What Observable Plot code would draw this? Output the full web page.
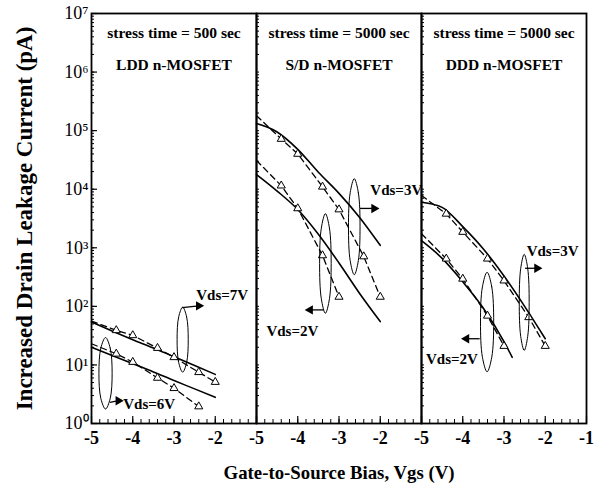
<!DOCTYPE html>
<html><head><meta charset="utf-8">
<script src="https://cdn.jsdelivr.net/npm/d3@7"></script>
<script src="https://cdn.jsdelivr.net/npm/@observablehq/plot@0.6"></script>
<style>
html,body{margin:0;padding:0;background:#fff;}
#chart{width:596px;height:494px;}
</style></head><body><div id="chart"></div>
<script>
// ---------- panels & texts ----------
const panels = ["LDD", "S/D", "DDD"];
const stressTitles = ["stress time = 500 sec", "stress time = 5000 sec", "stress time = 5000 sec"];
const deviceNames = ["LDD n-MOSFET", "S/D n-MOSFET", "DDD n-MOSFET"];
const yTitle = "Increased Drain Leakage Current (pA)";
const xTitle = "Gate-to-Source Bias, Vgs (V)";

// ---------- axis ticks ----------
const yTickValues = [1, 10, 100, 1e3, 1e4, 1e5, 1e6, 1e7];
const yTickLabels = ["10⁰", "10¹", "10²", "10³", "10⁴", "10⁵", "10⁶", "10⁷"];
const xTickPanel = ["LDD","LDD","LDD","LDD","S/D","S/D","S/D","S/D","DDD","DDD","DDD","DDD","DDD"];
const xTickValue = [-5,-4,-3,-2,-5,-4,-3,-2,-5,-4,-3,-2,-1];

// ---------- measured data (dashed line + triangles) ----------
const vgsMeas = [-5, -4.4, -4.0, -3.4, -3.0, -2.4, -2.0];
const lddMeas7V = [56, 39, 32, 19.4, 13.5, 7.5, 5.1];
const lddMeas6V = [23, 15.5, 11.2, 6.0, 4.0, 1.95];
const sdMeas3V = [1.8e5, 7.2e4, 4.0e4, 1.1e4, 4.5e3, 710, 145];
const sdMeas2V = [3.1e4, 1.15e4, 4.7e3, 740, 145];
const dddMeas3V = [7800, 3800, 1860, 650, 275, 65, 21];
const dddMeas2V = [1740, 650, 295, 69, 21];

// ---------- model curves (solid lines) ----------
const vgsFit = [-5, -4.5, -4, -3.5, -3, -2.5, -2];
const vgsFitDDD2V = [-5, -4.5, -4, -3.5, -3, -2.8];
const lddFit7V = [54, 38, 27, 19.5, 13.8, 9.8, 6.9];
const lddFit6V = [20, 14.5, 10.5, 7.6, 5.4, 3.9, 2.8];
const sdFit3V = [1.32e5, 9.5e4, 4.8e4, 1.95e4, 8.5e3, 3.3e3, 1.1e3];
const sdFit2V = [1.78e4, 9.3e3, 4.5e3, 1.7e3, 550, 166, 55];
const dddFit3V = [6000, 4900, 2300, 955, 330, 100, 28];
const dddFit2V = [1320, 660, 263, 93, 25, 13.5];

// ---------- annotations ----------
const ellPanel = ["LDD", "LDD", "S/D", "S/D", "DDD", "DDD"];
const ellX = [-2.79, -4.66, -2.63, -3.33, -2.51, -3.41];
const ellY = [27, 7.2, 2290, 540, 117, 54];
const ellHalfW = [0.135, 0.16, 0.14, 0.14, 0.12, 0.16];
const ellHalfDecades = [0.555, 0.61, 0.82, 0.85, 0.82, 0.85];

const arrowX1 = [-2.80, -4.55, -2.49, -3.37, -2.49, -3.59];
const arrowX2 = [-2.40, -4.35, -2.15, -3.70, -2.20, -3.91];
const arrowY1 = [95, 2.3, 4700, 87, 447, 28];
const arrowY2 = [102, 2.45, 4700, 87, 447, 28];

const labelText = ["Vds=7V", "Vds=6V", "Vds=3V", "Vds=2V", "Vds=3V", "Vds=2V"];
const labelX = [-2.46, -4.23, -2.24, -4.76, -2.45, -4.89];
const labelY = [155, 2.1, 9500, 38, 890, 12.6];

// ---------- build tables ----------
const zipRows = (panel, series, xs, ys) => ys.map((y, i) => ({panel, series, x: xs[i], y}));
const measured = [
  ...zipRows("LDD", "7V", vgsMeas, lddMeas7V),
  ...zipRows("LDD", "6V", vgsMeas, lddMeas6V),
  ...zipRows("S/D", "3V", vgsMeas, sdMeas3V),
  ...zipRows("S/D", "2V", vgsMeas, sdMeas2V),
  ...zipRows("DDD", "3V", vgsMeas, dddMeas3V),
  ...zipRows("DDD", "2V", vgsMeas, dddMeas2V)
];
const fits = [
  ...zipRows("LDD", "7V", vgsFit, lddFit7V),
  ...zipRows("LDD", "6V", vgsFit, lddFit6V),
  ...zipRows("S/D", "3V", vgsFit, sdFit3V),
  ...zipRows("S/D", "2V", vgsFit, sdFit2V),
  ...zipRows("DDD", "3V", vgsFit, dddFit3V),
  ...zipRows("DDD", "2V", vgsFitDDD2V, dddFit2V)
];
// ellipse outlines: 8 points around each centre (log-space vertical radius)
const c45 = Math.SQRT1_2;
const ellUnit = [[0,1],[c45,c45],[1,0],[c45,-c45],[0,-1],[-c45,-c45],[-1,0],[-c45,c45]];
const ellipsePts = ellPanel.flatMap((p, i) => ellUnit.map(([u, v]) => ({
  panel: p, id: i, x: ellX[i] + u * ellHalfW[i], y: ellY[i] * Math.pow(10, v * ellHalfDecades[i])
})));
const arrows = ellPanel.map((p, i) => ({panel: p, x1: arrowX1[i], y1: arrowY1[i], x2: arrowX2[i], y2: arrowY2[i]}));
const labels = ellPanel.map((p, i) => ({panel: p, x: labelX[i], y: labelY[i], t: labelText[i]}));
const titles = panels.map((p, i) => ({panel: p, stress: stressTitles[i], name: deviceNames[i]}));
const xTicks = xTickValue.map((v, i) => ({panel: xTickPanel[i], v}));

const serif = "'Liberation Serif', 'Times New Roman', serif";

const chart = Plot.plot({
  width: 596,
  height: 494,
  marginLeft: 90,
  marginRight: 10,
  marginTop: 13,
  marginBottom: 71,
  style: {fontFamily: serif, color: "black", background: "white"},
  fx: {domain: panels, padding: 0, axis: null},
  x: {domain: [-5, -1], label: null},
  y: {type: "log", domain: [1, 1e7], label: null},
  marks: [
    // axes: minor and major inward ticks
    Plot.axisX({ticks: 20, tickSize: -4, tickFormat: () => "", label: null, strokeWidth: 1}),
    Plot.axisX({ticks: [-5, -4, -3, -2, -1], tickSize: -7, tickFormat: () => "", label: null, strokeWidth: 1.2}),
    Plot.text(xTicks, {fx: "panel", x: "v", text: (d) => String(d.v), frameAnchor: "bottom", lineAnchor: "top",
      dy: 8, fontSize: 18, fontWeight: "bold"}),
    Plot.axisY({ticks: 100, tickSize: -3, tickFormat: () => "", label: null, facetAnchor: null, strokeWidth: 1}),
    Plot.axisY({ticks: yTickValues, tickSize: -6, tickFormat: () => "", label: null, strokeWidth: 1.2}),
    Plot.axisY({ticks: yTickValues, tickSize: 0, tickPadding: 3,
      tickFormat: (d) => yTickLabels[yTickValues.indexOf(d)], fontSize: 18, label: null}),
    Plot.frame({strokeWidth: 1.8}),
    // model curves
    Plot.line(fits, {fx: "panel", x: "x", y: "y", z: "series", curve: "monotone-x", strokeWidth: 1.6}),
    // measured
    Plot.line(measured, {fx: "panel", x: "x", y: "y", z: "series", strokeWidth: 1.3, strokeDasharray: "6,4"}),
    Plot.dot(measured.filter((d) => d.x > -5), {fx: "panel", x: "x", y: "y", symbol: "triangle", r: 3,
      fill: "white", stroke: "black", strokeWidth: 1}),
    // ellipses
    Plot.line(ellipsePts, {fx: "panel", x: "x", y: "y", z: "id", curve: "catmull-rom-closed", strokeWidth: 1}),
    // arrows
    Plot.link(arrows, {fx: "panel", x1: "x1", y1: "y1", x2: "x2", y2: "y2", strokeWidth: 1.3}),
    Plot.dot(arrows, {fx: "panel", x: "x2", y: "y2", symbol: "triangle2", r: 4.5, fill: "black",
      rotate: (d) => (d.x2 > d.x1 ? 90 : -90)}),
    // labels
    Plot.text(labels, {fx: "panel", x: "x", y: "y", text: "t", textAnchor: "start", fontSize: 15, fontWeight: "bold"}),
    Plot.text(titles, {fx: "panel", text: "stress", frameAnchor: "top", lineAnchor: "middle", dy: 20, fontSize: 15.5, fontWeight: "bold"}),
    Plot.text(titles, {fx: "panel", text: "name", frameAnchor: "top", lineAnchor: "middle", dy: 52, fontSize: 15.5, fontWeight: "bold"}),
    // axis titles
    Plot.text([{panel: "LDD", t: yTitle}], {fx: "panel", text: "t", frameAnchor: "left", textAnchor: "middle",
      lineAnchor: "middle", rotate: -90, dx: -67, fontSize: 23, fontWeight: "bold"}),
    Plot.text([{panel: "S/D", t: xTitle}], {fx: "panel", text: "t", frameAnchor: "bottom", lineAnchor: "middle", dy: 49,
      fontSize: 18.8, fontWeight: "bold"})
  ]
});
document.getElementById("chart").appendChild(chart);
</script>
</body></html>
